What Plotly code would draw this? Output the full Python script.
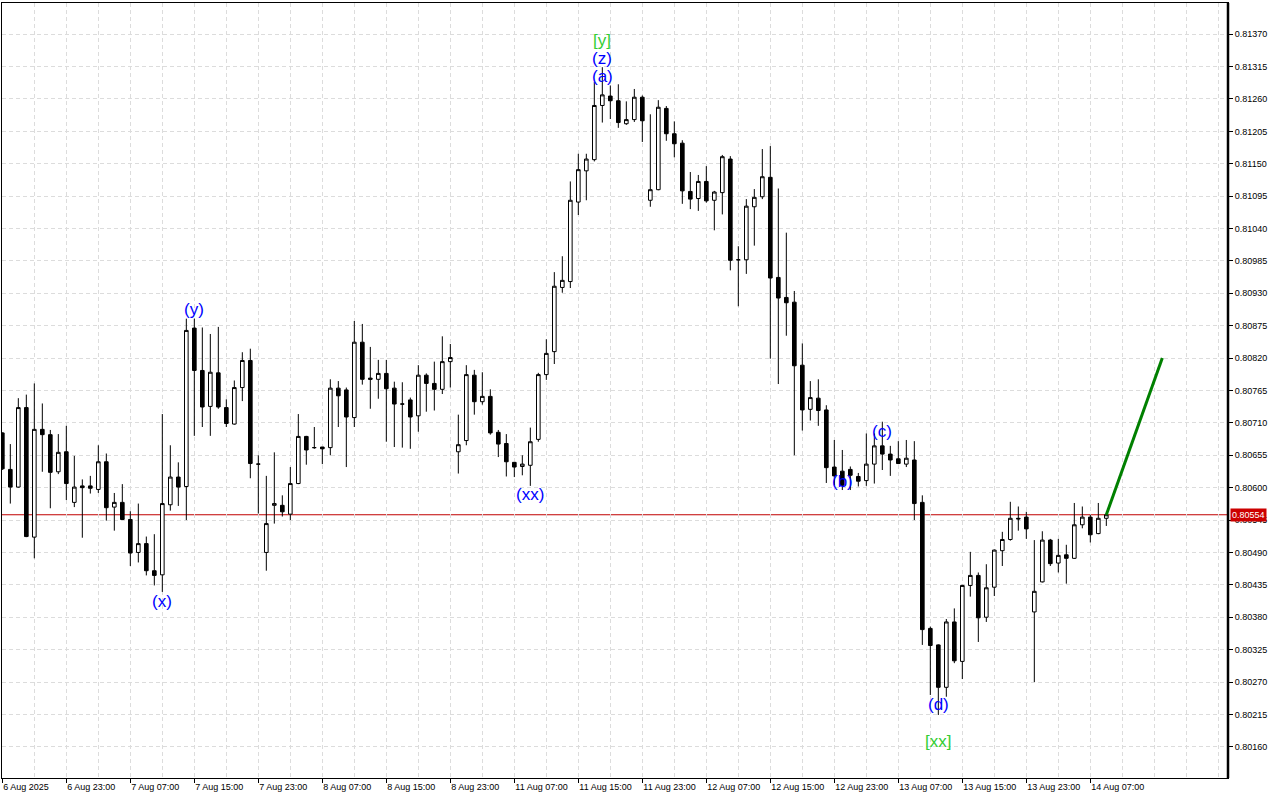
import plotly.graph_objects as go

# ---------------- data ----------------
tick_bars = [0, 8, 16, 24, 32, 40, 48, 56, 64, 72, 80, 88, 96, 104, 112, 120, 128, 136]
tick_labels = ["6 Aug 2025", "6 Aug 23:00", "7 Aug 07:00", "7 Aug 15:00", "7 Aug 23:00",
               "8 Aug 07:00", "8 Aug 15:00", "8 Aug 23:00", "11 Aug 07:00", "11 Aug 15:00",
               "11 Aug 23:00", "12 Aug 07:00", "12 Aug 15:00", "12 Aug 23:00", "13 Aug 07:00",
               "13 Aug 15:00", "13 Aug 23:00", "14 Aug 07:00"]

price_ticks = [0.80160, 0.80215, 0.80270, 0.80325, 0.80380, 0.80435, 0.80490, 0.80545,
               0.80600, 0.80655, 0.80710, 0.80765, 0.80820, 0.80875, 0.80930, 0.80985,
               0.81040, 0.81095, 0.81150, 0.81205, 0.81260, 0.81315, 0.81370]

opens = [0.80693, 0.80631, 0.80601, 0.80736, 0.80516, 0.80699, 0.80690, 0.80627, 0.80661, 0.80575,
         0.80603, 0.80603, 0.80597, 0.80644, 0.80567, 0.80575, 0.80546, 0.80490, 0.80505, 0.80459,
         0.80452, 0.80571, 0.80618, 0.80602, 0.80871, 0.80799, 0.80738, 0.80795, 0.80736, 0.80708,
         0.80770, 0.80816, 0.80640, 0.80490, 0.80570, 0.80570, 0.80555, 0.80607, 0.80687, 0.80668,
         0.80669, 0.80668, 0.80769, 0.80766, 0.80719, 0.80847, 0.80786, 0.80784, 0.80794, 0.80769,
         0.80742, 0.80749, 0.80722, 0.80791, 0.80777, 0.80767, 0.80814, 0.80661, 0.80680, 0.80791,
         0.80746, 0.80755, 0.80694, 0.80675, 0.80643, 0.80636, 0.80638, 0.80682, 0.80792, 0.80831,
         0.80940, 0.80950, 0.81085, 0.81138, 0.81157, 0.81249, 0.81265, 0.81257, 0.81218, 0.81225,
         0.81263, 0.81088, 0.81106, 0.81244, 0.81201, 0.81185, 0.81103, 0.81091, 0.81120, 0.81088,
         0.81101, 0.81158, 0.80987, 0.80987, 0.81077, 0.81094, 0.81127, 0.80957, 0.80923, 0.80915,
         0.80808, 0.80733, 0.80752, 0.80732, 0.80635, 0.80628, 0.80631, 0.80619, 0.80612, 0.80640,
         0.80671, 0.80657, 0.80649, 0.80640, 0.80647, 0.80575, 0.80361, 0.80333, 0.80261, 0.80372,
         0.80305, 0.80434, 0.80451, 0.80380, 0.80431, 0.80493, 0.80512, 0.80548, 0.80550, 0.80389,
         0.80440, 0.80511, 0.80472, 0.80486, 0.80480, 0.80537, 0.80550, 0.80522, 0.80548]

highs = [0.80694, 0.80674, 0.80752, 0.80758, 0.80777, 0.80743, 0.80698, 0.80691, 0.80705, 0.80654,
         0.80614, 0.80620, 0.80672, 0.80658, 0.80591, 0.80606, 0.80560, 0.80573, 0.80517, 0.80521,
         0.80725, 0.80672, 0.80643, 0.80887, 0.80887, 0.80872, 0.80861, 0.80873, 0.80750, 0.80782,
         0.80830, 0.80836, 0.80655, 0.80620, 0.80660, 0.80587, 0.80635, 0.80725, 0.80688, 0.80703,
         0.80669, 0.80784, 0.80781, 0.80770, 0.80883, 0.80878, 0.80839, 0.80817, 0.80817, 0.80780,
         0.80779, 0.80753, 0.80808, 0.80794, 0.80814, 0.80857, 0.80844, 0.80724, 0.80808, 0.80800,
         0.80796, 0.80767, 0.80698, 0.80691, 0.80643, 0.80655, 0.80702, 0.80795, 0.80852, 0.80966,
         0.80993, 0.81120, 0.81167, 0.81167, 0.81289, 0.81314, 0.81283, 0.81285, 0.81256, 0.81277,
         0.81266, 0.81234, 0.81258, 0.81248, 0.81222, 0.81190, 0.81136, 0.81131, 0.81146, 0.81104,
         0.81165, 0.81163, 0.81010, 0.81090, 0.81107, 0.81175, 0.81180, 0.81108, 0.81033, 0.80934,
         0.80845, 0.80781, 0.80784, 0.80740, 0.80681, 0.80664, 0.80636, 0.80625, 0.80692, 0.80692,
         0.80712, 0.80671, 0.80679, 0.80681, 0.80679, 0.80587, 0.80364, 0.80334, 0.80377, 0.80395,
         0.80435, 0.80491, 0.80456, 0.80470, 0.80495, 0.80525, 0.80576, 0.80568, 0.80559, 0.80511,
         0.80526, 0.80513, 0.80513, 0.80503, 0.80574, 0.80568, 0.80554, 0.80574, 0.80557]

lows = [0.80630, 0.80573, 0.80600, 0.80516, 0.80480, 0.80627, 0.80565, 0.80623, 0.80579, 0.80567,
        0.80515, 0.80590, 0.80591, 0.80544, 0.80527, 0.80545, 0.80467, 0.80473, 0.80451, 0.80434,
        0.80423, 0.80561, 0.80569, 0.80545, 0.80688, 0.80703, 0.80688, 0.80734, 0.80703, 0.80707,
        0.80747, 0.80616, 0.80556, 0.80459, 0.80539, 0.80551, 0.80545, 0.80606, 0.80639, 0.80666,
        0.80640, 0.80655, 0.80703, 0.80635, 0.80703, 0.80775, 0.80734, 0.80751, 0.80678, 0.80669,
        0.80668, 0.80666, 0.80695, 0.80729, 0.80731, 0.80759, 0.80770, 0.80624, 0.80672, 0.80724,
        0.80741, 0.80690, 0.80652, 0.80619, 0.80618, 0.80621, 0.80603, 0.80678, 0.80783, 0.80810,
        0.80931, 0.80939, 0.81063, 0.81088, 0.81154, 0.81220, 0.81226, 0.81211, 0.81216, 0.81221,
        0.81187, 0.81077, 0.81105, 0.81189, 0.81161, 0.81082, 0.81073, 0.81070, 0.81084, 0.81037,
        0.81064, 0.80969, 0.80908, 0.80963, 0.81011, 0.81090, 0.80819, 0.80776, 0.80858, 0.80655,
        0.80697, 0.80714, 0.80705, 0.80608, 0.80604, 0.80596, 0.80596, 0.80602, 0.80603, 0.80607,
        0.80630, 0.80620, 0.80640, 0.80635, 0.80545, 0.80333, 0.80248, 0.80214, 0.80245, 0.80302,
        0.80275, 0.80415, 0.80338, 0.80372, 0.80416, 0.80467, 0.80510, 0.80527, 0.80513, 0.80270,
        0.80439, 0.80467, 0.80456, 0.80437, 0.80479, 0.80531, 0.80507, 0.80521, 0.80535]

closes = [0.80632, 0.80601, 0.80736, 0.80517, 0.80699, 0.80690, 0.80626, 0.80660, 0.80607, 0.80601,
          0.80600, 0.80599, 0.80644, 0.80566, 0.80575, 0.80546, 0.80489, 0.80505, 0.80459, 0.80451,
          0.80573, 0.80618, 0.80601, 0.80867, 0.80799, 0.80737, 0.80796, 0.80737, 0.80709, 0.80770,
          0.80816, 0.80641, 0.80640, 0.80539, 0.80573, 0.80559, 0.80607, 0.80687, 0.80664, 0.80668,
          0.80666, 0.80769, 0.80756, 0.80720, 0.80847, 0.80784, 0.80784, 0.80794, 0.80768, 0.80742,
          0.80742, 0.80720, 0.80791, 0.80777, 0.80767, 0.80814, 0.80821, 0.80673, 0.80792, 0.80746,
          0.80755, 0.80693, 0.80674, 0.80644, 0.80635, 0.80640, 0.80678, 0.80792, 0.80828, 0.80942,
          0.80952, 0.81088, 0.81140, 0.81158, 0.81249, 0.81267, 0.81257, 0.81220, 0.81225, 0.81263,
          0.81223, 0.81106, 0.81246, 0.81201, 0.81184, 0.81104, 0.81090, 0.81120, 0.81087, 0.81102,
          0.81162, 0.80986, 0.80987, 0.81078, 0.81093, 0.81128, 0.80956, 0.80922, 0.80914, 0.80807,
          0.80732, 0.80753, 0.80731, 0.80634, 0.80620, 0.80604, 0.80621, 0.80611, 0.80640, 0.80671,
          0.80657, 0.80647, 0.80641, 0.80650, 0.80573, 0.80359, 0.80332, 0.80261, 0.80372, 0.80306,
          0.80434, 0.80451, 0.80379, 0.80430, 0.80494, 0.80512, 0.80548, 0.80547, 0.80530, 0.80424,
          0.80511, 0.80471, 0.80485, 0.80480, 0.80537, 0.80550, 0.80520, 0.80548, 0.80554]

bars = list(range(len(opens)))

wave_labels = ["(x)", "(y)", "(xx)", "[y]", "(z)", "(a)", "(b)", "(c)", "(d)", "[xx]"]
wave_bars = [20, 24, 66, 75, 75, 75, 105, 110, 117, 117]
wave_prices = [0.80406, 0.80902, 0.80588, 0.81360, 0.81328, 0.81298, 0.80610, 0.80695, 0.80231, 0.80169]
wave_is_major = [False, False, False, True, False, False, False, False, False, True]

projection_bars = [138, 145]
projection_prices = [0.80554, 0.80820]
current_price = 0.80554

# ---------------- figure ----------------
TICK_FONT = dict(family="Liberation Sans, Arial, sans-serif", size=9, color="black")
GRID = "#dcdcdc"

fig = go.Figure()
fig.add_trace(go.Candlestick(
    x=bars, open=opens, high=highs, low=lows, close=closes,
    increasing=dict(fillcolor="white", line=dict(color="black", width=1)),
    decreasing=dict(fillcolor="black", line=dict(color="black", width=1)),
    whiskerwidth=0, showlegend=False, hoverinfo="skip",
))
fig.add_trace(go.Scatter(
    x=projection_bars, y=projection_prices, mode="lines",
    line=dict(color="#008000", width=3), showlegend=False, hoverinfo="skip",
))

for txt, b, p, major in zip(wave_labels, wave_bars, wave_prices, wave_is_major):
    fig.add_annotation(
        x=b, y=p, xref="x", yref="y", text=txt, showarrow=False,
        xanchor="center", yanchor="middle",
        font=dict(family="Liberation Sans, Arial, sans-serif", size=17,
                  color="#32cd32" if major else "#0000ff"),
    )

# current price line and label
fig.add_shape(type="line", xref="paper", x0=0, x1=1, yref="y", y0=current_price, y1=current_price,
              line=dict(color="#c00000", width=1), layer="below")
fig.add_annotation(
    x=1, xref="paper", y=current_price, yref="y", text=f"{current_price:.5f}",
    xanchor="left", yanchor="middle", xshift=2, showarrow=False,
    bgcolor="#cc0000", borderpad=1,
    font=dict(family="Liberation Sans, Arial, sans-serif", size=9, color="white"),
)
# thick right border
fig.add_shape(type="line", xref="paper", x0=1, x1=1, yref="paper", y0=0, y1=1,
              line=dict(color="black", width=2.5), layer="above")

fig.update_layout(
    width=1280, height=800,
    margin=dict(l=2, r=52, t=3, b=22, pad=0),
    paper_bgcolor="white", plot_bgcolor="white",
    boxgap=0.35,
    showlegend=False,
    xaxis=dict(
        range=[-0.04, 153.21],
        tickmode="array", tickvals=tick_bars, ticktext=tick_labels,
        ticks="outside", ticklen=4, tickcolor="black", tickwidth=1,
        ticklabelposition="outside right",
        tickfont=TICK_FONT,
        showgrid=True, gridcolor=GRID, gridwidth=1, griddash="4px,3px",
        minor=dict(tickmode="linear", tick0=0, dtick=4, showgrid=True,
                   gridcolor=GRID, gridwidth=1, griddash="4px,3px", ticks=""),
        showline=True, linecolor="black", linewidth=1, mirror=True,
        zeroline=False, rangeslider=dict(visible=False), automargin=False,
    ),
    yaxis=dict(
        side="right",
        range=[0.80107, 0.81423],
        tickmode="array", tickvals=price_ticks, ticktext=[f"{v:.5f}" for v in price_ticks],
        ticks="outside", ticklen=4, tickcolor="black", tickwidth=1,
        tickfont=TICK_FONT,
        showgrid=True, gridcolor=GRID, gridwidth=1, griddash="4px,3px",
        showline=True, linecolor="black", linewidth=1, mirror=True,
        zeroline=False, automargin=False,
    ),
)

fig.write_html("out.html", config={"displayModeBar": False},
               post_script="document.body.style.margin='0';")
